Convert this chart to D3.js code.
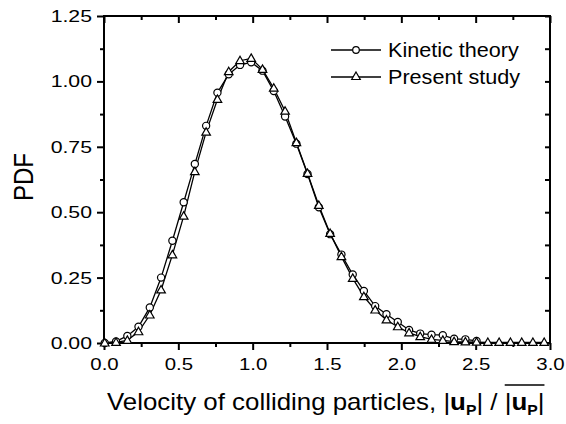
<!DOCTYPE html>
<html>
<head>
<meta charset="utf-8">
<script src="https://cdn.jsdelivr.net/npm/d3@7"></script>
<style>
  html, body { margin: 0; padding: 0; background: #fff; }
  svg { display: block; font-family: "Liberation Sans", Arial, sans-serif; }
</style>
</head>
<body>
<svg id="chart" width="566" height="424"></svg>
<script>
// Normalised collision velocity |u_p| / mean(|u_p|)
const velocity = [0.005, 0.081, 0.157, 0.232, 0.308, 0.384, 0.460, 0.536, 0.611, 0.687,
                  0.763, 0.839, 0.915, 0.990, 1.066, 1.142, 1.218, 1.294, 1.369, 1.445,
                  1.521, 1.597, 1.673, 1.748, 1.824, 1.900, 1.976, 2.052, 2.127, 2.203,
                  2.279, 2.355, 2.431, 2.506, 2.582, 2.658, 2.734, 2.810, 2.885, 2.961];

// PDF from kinetic theory
const kineticTheory = [0.000, 0.006, 0.027, 0.062, 0.136, 0.250, 0.391, 0.538, 0.684, 0.830,
                       0.957, 1.027, 1.063, 1.073, 1.041, 0.963, 0.866, 0.762, 0.646, 0.519,
                       0.416, 0.338, 0.262, 0.199, 0.141, 0.110, 0.080, 0.050, 0.036, 0.032,
                       0.030, 0.016, 0.014, 0.008];

// PDF from the present simulations
const presentStudy = [0.000, 0.002, 0.010, 0.043, 0.107, 0.203, 0.337, 0.485, 0.655, 0.806,
                      0.931, 1.037, 1.079, 1.088, 1.046, 0.974, 0.886, 0.766, 0.648, 0.526,
                      0.419, 0.330, 0.247, 0.177, 0.126, 0.088, 0.062, 0.039, 0.024, 0.014,
                      0.010, 0.005, 0.004, 0.003, 0.002, 0.002, 0.002, 0.002, 0.002, 0.002];

const xTicks = [0, 0.5, 1.0, 1.5, 2.0, 2.5, 3.0];
const yTicks = [0, 0.25, 0.5, 0.75, 1.0, 1.25];
const seriesNames = ["Kinetic theory", "Present study"];

const svg = d3.select("#chart");
const plotLeft = 104, plotRight = 550, plotTop = 16, plotBottom = 343;

const x = d3.scaleLinear().domain([0, 3]).range([plotLeft, plotRight]);
const y = d3.scaleLinear().domain([0, 1.25]).range([plotBottom, plotTop]);

const minorX = d3.range(0, 3.001, 0.25).filter(v => !xTicks.some(t => Math.abs(t - v) < 1e-6));
const minorY = d3.range(0, 1.2501, 0.125).filter(v => !yTicks.some(t => Math.abs(t - v) < 1e-6));

// Widen glyphs horizontally (the typeface used here is broad)
function widen(sel, factor) {
  sel.each(function () {
    const len = this.getComputedTextLength();
    d3.select(this).attr("textLength", len * factor).attr("lengthAdjust", "spacingAndGlyphs");
  });
}

function styleAxis(g) {
  g.select(".domain").remove();
  g.selectAll(".tick line").attr("stroke", "#000").attr("stroke-width", 2);
  g.selectAll(".tick text").attr("fill", "#000").style("font-size", "17px");
}

// Axes: bottom/left ticks point out, top/right ticks point in
const xAxisG = svg.append("g").attr("transform", `translate(0,${plotBottom})`)
  .call(d3.axisBottom(x).tickValues(xTicks).tickFormat(d3.format(".1f")).tickSize(7).tickPadding(8))
  .call(styleAxis);
widen(xAxisG.selectAll(".tick text"), 1.2);
svg.append("g").attr("transform", `translate(0,${plotBottom})`)
  .call(d3.axisBottom(x).tickValues(minorX).tickFormat("").tickSize(4))
  .call(styleAxis);
const yAxisG = svg.append("g").attr("transform", `translate(${plotLeft},0)`)
  .call(d3.axisLeft(y).tickValues(yTicks).tickFormat(d3.format(".2f")).tickSize(7).tickPadding(5))
  .call(styleAxis);
widen(yAxisG.selectAll(".tick text"), 1.25);
svg.append("g").attr("transform", `translate(${plotLeft},0)`)
  .call(d3.axisLeft(y).tickValues(minorY).tickFormat("").tickSize(4))
  .call(styleAxis);
svg.append("g").attr("transform", `translate(0,${plotTop})`)
  .call(d3.axisBottom(x).tickValues(xTicks).tickFormat("").tickSize(7))
  .call(styleAxis);
svg.append("g").attr("transform", `translate(0,${plotTop})`)
  .call(d3.axisBottom(x).tickValues(minorX).tickFormat("").tickSize(4))
  .call(styleAxis);
svg.append("g").attr("transform", `translate(${plotRight},0)`)
  .call(d3.axisLeft(y).tickValues(yTicks).tickFormat("").tickSize(5))
  .call(styleAxis);
svg.append("g").attr("transform", `translate(${plotRight},0)`)
  .call(d3.axisLeft(y).tickValues(minorY).tickFormat("").tickSize(5))
  .call(styleAxis);

// Frame
svg.append("rect")
  .attr("x", plotLeft).attr("y", plotTop)
  .attr("width", plotRight - plotLeft).attr("height", plotBottom - plotTop)
  .attr("fill", "none").attr("stroke", "#000").attr("stroke-width", 2);

// Data series
const line = d3.line().x(d => x(d[0])).y(d => y(d[1]));
const kinData = kineticTheory.map((v, i) => [velocity[i], v]);
const preData = presentStudy.map((v, i) => [velocity[i], v]);

const triangle = d3.symbol().type(d3.symbolTriangle).size(32);

svg.append("path").datum(kinData).attr("d", line)
  .attr("fill", "none").attr("stroke", "#000").attr("stroke-width", 1.3);
svg.append("path").datum(preData).attr("d", line)
  .attr("fill", "none").attr("stroke", "#000").attr("stroke-width", 1.3);

svg.append("g").selectAll("circle").data(kinData).join("circle")
  .attr("cx", d => x(d[0])).attr("cy", d => y(d[1])).attr("r", 3.6)
  .attr("fill", "#fff").attr("stroke", "#000").attr("stroke-width", 1.2);

svg.append("g").selectAll("path").data(preData).join("path")
  .attr("d", triangle)
  .attr("transform", d => `translate(${x(d[0])},${y(d[1]) + 0.5})`)
  .attr("fill", "#fff").attr("stroke", "#000").attr("stroke-width", 1.2);

// Legend
const legend = svg.append("g");
const legendRows = [
  { name: seriesNames[0], y: 50, marker: "circle" },
  { name: seriesNames[1], y: 77, marker: "triangle" }
];
legendRows.forEach(r => {
  legend.append("line").attr("x1", 331).attr("x2", 381).attr("y1", r.y).attr("y2", r.y)
    .attr("stroke", "#000").attr("stroke-width", 1.3);
  if (r.marker === "circle") {
    legend.append("circle").attr("cx", 356).attr("cy", r.y).attr("r", 3.3)
      .attr("fill", "#fff").attr("stroke", "#000").attr("stroke-width", 1.2);
  } else {
    legend.append("path").attr("d", triangle).attr("transform", `translate(356,${r.y})`)
      .attr("fill", "#fff").attr("stroke", "#000").attr("stroke-width", 1.2);
  }
  const t = legend.append("text").attr("x", 388).attr("y", r.y + 7)
    .style("font-size", "20px").attr("fill", "#000").text(r.name);
  widen(t, 1.08);
});

// Y axis title
const yTitle = svg.append("text")
  .attr("transform", "translate(33,177) rotate(-90)")
  .attr("text-anchor", "middle")
  .style("font-size", "27px").attr("fill", "#000")
  .text("PDF");
widen(yTitle, 0.89);

// X axis title with bold subscripted velocity and overlined mean
const xTitleG = svg.append("g").attr("transform", "translate(107,410) scale(1.125,1)");
const xt = xTitleG.append("text").attr("x", 0).attr("y", 0)
  .style("font-size", "23px").attr("fill", "#000");
xt.append("tspan").text("Velocity of colliding particles, |");
xt.append("tspan").style("font-weight", "bold").text("u");
xt.append("tspan").style("font-weight", "bold").style("font-size", "14px").attr("dy", 5).text("P");
xt.append("tspan").attr("dy", -5).text("| / ");
const barStartIdx = xt.text().length;
xt.append("tspan").text("|");
xt.append("tspan").style("font-weight", "bold").text("u");
xt.append("tspan").style("font-weight", "bold").style("font-size", "14px").attr("dy", 5).text("P");
xt.append("tspan").attr("dy", -5).text("|");
const node = xt.node();
const n = node.getNumberOfChars();
const x0 = node.getStartPositionOfChar(barStartIdx).x;
const x1 = node.getEndPositionOfChar(n - 1).x;
xTitleG.append("line").attr("x1", x0).attr("x2", x1).attr("y1", -25).attr("y2", -25)
  .attr("stroke", "#000").attr("stroke-width", 1.5);
</script>
</body>
</html>
